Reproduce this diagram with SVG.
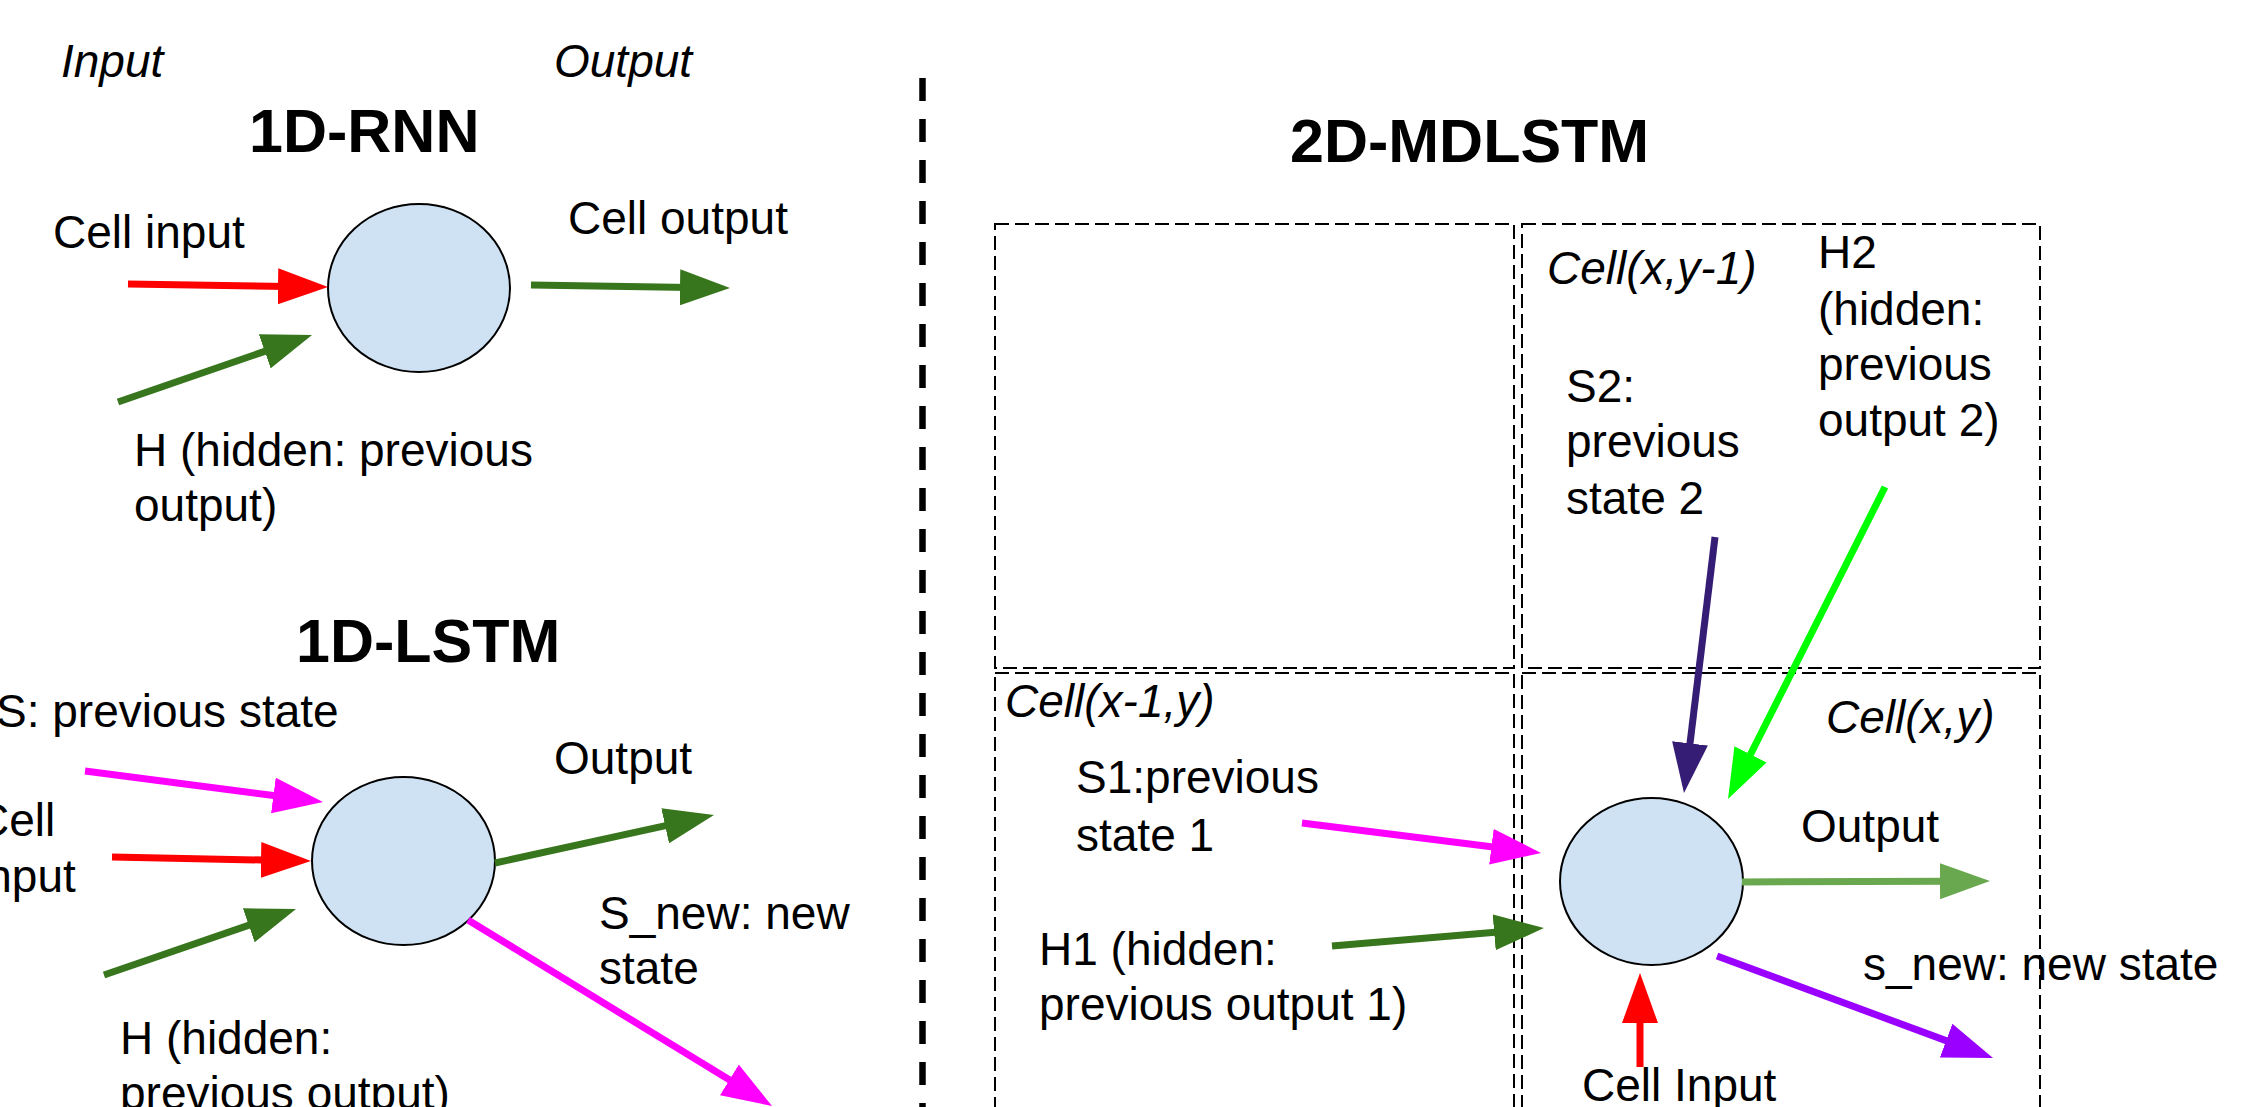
<svg xmlns="http://www.w3.org/2000/svg" width="2245" height="1107" viewBox="0 0 2245 1107">
<style>
text{font-family:"Liberation Sans",Arial,sans-serif;font-size:46px;fill:#000}
.t{font-weight:bold;font-size:61px}
.i{font-style:italic}
.cell{fill:#cfe2f3;stroke:#000;stroke-width:2}
.grid{fill:none;stroke:#000;stroke-width:2;stroke-dasharray:14 6;shape-rendering:crispEdges}
.arr{fill:none;stroke-width:7;stroke-linecap:butt}
</style>
<defs>
<marker id="mRed" markerUnits="userSpaceOnUse" markerWidth="50" markerHeight="36" refX="10" refY="18" orient="auto"><path d="M0,0 L50,18 L0,36 z" fill="#ff0000"/></marker>
<marker id="mGreen" markerUnits="userSpaceOnUse" markerWidth="50" markerHeight="36" refX="10" refY="18" orient="auto"><path d="M0,0 L50,18 L0,36 z" fill="#38761d"/></marker>
<marker id="mMag" markerUnits="userSpaceOnUse" markerWidth="50" markerHeight="36" refX="10" refY="18" orient="auto"><path d="M0,0 L50,18 L0,36 z" fill="#ff00ff"/></marker>
<marker id="mLight" markerUnits="userSpaceOnUse" markerWidth="50" markerHeight="36" refX="10" refY="18" orient="auto"><path d="M0,0 L50,18 L0,36 z" fill="#6aa84f"/></marker>
<marker id="mPurple" markerUnits="userSpaceOnUse" markerWidth="50" markerHeight="36" refX="10" refY="18" orient="auto"><path d="M0,0 L50,18 L0,36 z" fill="#9900ff"/></marker>
<marker id="mDark" markerUnits="userSpaceOnUse" markerWidth="50" markerHeight="36" refX="10" refY="18" orient="auto"><path d="M0,0 L50,18 L0,36 z" fill="#351c75"/></marker>
<marker id="mLime" markerUnits="userSpaceOnUse" markerWidth="50" markerHeight="36" refX="10" refY="18" orient="auto"><path d="M0,0 L50,18 L0,36 z" fill="#00ff00"/></marker>
</defs>
<rect width="2245" height="1107" fill="#fff"/>

<g id="divider">
<line x1="922.5" y1="78" x2="922.5" y2="1107" stroke="#000" stroke-width="6.5" stroke-dasharray="23 18"/>
</g>

<g id="grid">
<rect class="grid" x="995" y="224" width="519" height="444"/>
<rect class="grid" x="1522" y="224" width="518" height="444"/>
<rect class="grid" x="995" y="673" width="519" height="460"/>
<rect class="grid" x="1522" y="673" width="518" height="460"/>
</g>

<g id="labels">
<text class="i" x="61" y="77">Input</text>
<text class="i" x="554" y="77">Output</text>
<text class="t" x="249" y="152">1D-RNN</text>
<text class="t" x="296" y="662">1D-LSTM</text>
<text class="t" x="1290" y="162">2D-MDLSTM</text>
<text class="i" x="1547" y="284">Cell(x,y-1)</text>
<text class="i" x="1005" y="717">Cell(x-1,y)</text>
<text class="i" x="1826" y="733">Cell(x,y)</text>
</g>

<g id="rnn-cell"><ellipse class="cell" cx="419" cy="288" rx="91" ry="84"/></g>
<g id="lstm-cell"><ellipse class="cell" cx="403.5" cy="861" rx="91.5" ry="84"/></g>
<g id="mdlstm-cell"><ellipse class="cell" cx="1651.5" cy="881.5" rx="91.5" ry="83.5"/></g>

<g id="connectors">
<line class="arr" x1="128" y1="284" x2="288" y2="286.4" stroke="#ff0000" marker-end="url(#mRed)"/>
<line class="arr" x1="118" y1="402" x2="274.2" y2="348.1" stroke="#38761d" marker-end="url(#mGreen)"/>
<line class="arr" x1="531" y1="285" x2="690" y2="287.4" stroke="#38761d" marker-end="url(#mGreen)"/>

<line class="arr" x1="85" y1="771" x2="283.3" y2="796.8" stroke="#ff00ff" marker-end="url(#mMag)"/>
<line class="arr" x1="112" y1="857" x2="271" y2="860.2" stroke="#ff0000" marker-end="url(#mRed)"/>
<line class="arr" x1="104" y1="975" x2="258.2" y2="922" stroke="#38761d" marker-end="url(#mGreen)"/>
<line class="arr" x1="495" y1="863" x2="674.9" y2="823.6" stroke="#38761d" marker-end="url(#mGreen)"/>
<line class="arr" x1="468" y1="920" x2="737.9" y2="1085.1" stroke="#ff00ff" marker-end="url(#mMag)"/>

<line class="arr" x1="1302" y1="823" x2="1501.3" y2="848" stroke="#ff00ff" marker-end="url(#mMag)"/>
<line class="arr" x1="1332" y1="946" x2="1504.1" y2="931.4" stroke="#38761d" marker-end="url(#mGreen)"/>
<line class="arr" x1="1640" y1="1067" x2="1640" y2="1013" stroke="#ff0000" marker-end="url(#mRed)"/>
<line class="arr" x1="1715" y1="537" x2="1688.8" y2="753.3" stroke="#351c75" marker-end="url(#mDark)"/>
<line class="arr" x1="1885" y1="487" x2="1746" y2="763.3" stroke="#00ff00" marker-end="url(#mLime)"/>
<line class="arr" x1="1742" y1="882" x2="1950" y2="881.2" stroke="#6aa84f" marker-end="url(#mLight)"/>
<line class="arr" x1="1717" y1="956" x2="1955.5" y2="1044.1" stroke="#9900ff" marker-end="url(#mPurple)"/>
</g>

<g id="arrow-labels">
<text x="53" y="248">Cell input</text>
<text x="568" y="234">Cell output</text>
<text x="134" y="466">H (hidden: previous<tspan x="134" y="521">output)</tspan></text>

<text x="-4" y="727">S: previous state</text>
<text x="-24" y="836">Cell<tspan x="-24" y="892">input</tspan></text>
<text x="554" y="774">Output</text>
<text x="599" y="929">S_new: new<tspan x="599" y="984">state</tspan></text>
<text x="120" y="1054">H (hidden:<tspan x="120" y="1109">previous output)</tspan></text>

<text x="1566" y="402">S2:<tspan x="1566" y="457">previous</tspan><tspan x="1566" y="514">state 2</tspan></text>
<text x="1818" y="268">H2<tspan x="1818" y="325">(hidden:</tspan><tspan x="1818" y="380">previous</tspan><tspan x="1818" y="436">output 2)</tspan></text>
<text x="1076" y="793">S1:previous<tspan x="1076" y="851">state 1</tspan></text>
<text x="1039" y="965">H1 (hidden:<tspan x="1039" y="1020">previous output 1)</tspan></text>
<text x="1801" y="842">Output</text>
<text x="1863" y="980">s_new: new state</text>
<text x="1582" y="1101">Cell Input</text>
</g>
</svg>
